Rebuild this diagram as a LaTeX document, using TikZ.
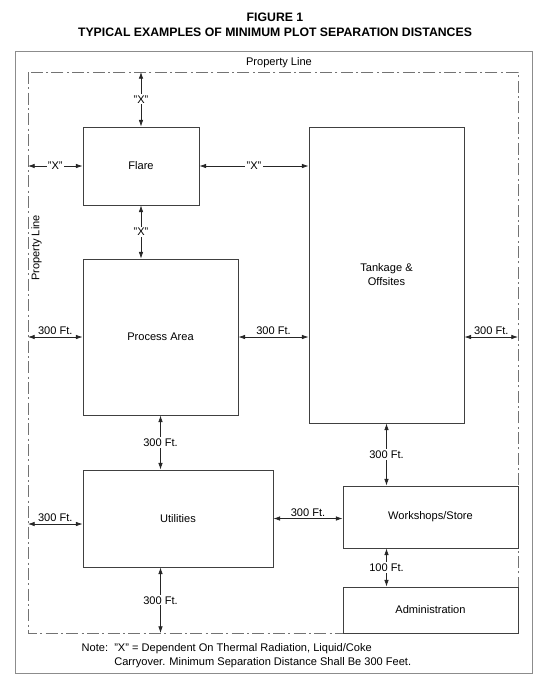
\documentclass[tikz,border=0pt]{standalone}
\usepackage{fontspec}
\setmainfont{Liberation Sans}
\usetikzlibrary{arrows.meta}

\begin{document}
\begin{tikzpicture}[x=0.75pt, y=-0.75pt,
  font=\fontsize{8.3}{10.5}\selectfont,
  area/.style={draw=black!75, line width=0.7pt, fill=white, inner sep=0pt, align=center},
  dim/.style={{Latex[length=5pt,width=3.4pt]}-{Latex[length=5pt,width=3.4pt]}, line width=0.5pt, draw=black!85},
  onl/.style={fill=white, inner sep=1pt},
  abv/.style={above, inner sep=1.5pt}]
\useasboundingbox (0,0) rectangle (549,683);

% title
\node[font=\fontsize{9.2}{11.5}\selectfont\bfseries, align=center] (title) at (275,25) {FIGURE 1\\TYPICAL EXAMPLES OF MINIMUM PLOT SEPARATION DISTANCES};
\draw[black!45, line width=0.6pt] (15,51) rectangle (532,673);

% property line
\coordinate (plnw) at (28,72);
\coordinate (plse) at (518,633);
\coordinate (plw) at (28,524);
\draw[black!55, line width=0.6pt, dash pattern=on 9pt off 2.5pt on 1.5pt off 2.5pt] (plnw) rectangle (plse);
\node (pltop) at (279,63) {Property Line};
\node[rotate=90] (plleft) at (36.5,248) {Property Line};

% plot areas
\node[area, minimum width=87pt, minimum height=58.5pt] (flare) at (141,166) {Flare};
\node[area, minimum width=116.25pt, minimum height=117pt] (process) at (160.5,337) {Process Area};
\node[area, minimum width=116.25pt, minimum height=222pt] (tankage) at (386.5,275) {Tankage \&\\Offsites};
\node[area, minimum width=142.5pt, minimum height=72.75pt] (utilities) at (178,518.5) {Utilities};
\node[area, minimum width=131.25pt, minimum height=46.5pt] (workshops) at (430.5,517) {Workshops/Store};
\node[area, minimum width=131.25pt, minimum height=34.5pt] (admin) at (430.5,610) {Administration};

% distances
\draw[dim] (flare.north) -- node[onl] {"X"} (flare.north |- plnw);
\draw[dim] (plnw |- flare) -- node[onl] {"X"} (flare.west);
\draw[dim] (flare.east) -- node[onl] {"X"} (flare.east -| tankage.west);
\draw[dim] (flare.south) -- node[onl] {"X"} (flare.south |- process.north);
\draw[dim] (plnw |- process) -- node[abv] {300 Ft.} (process.west);
\draw[dim] (process.east) -- node[abv] {300 Ft.} (process.east -| tankage.west);
\draw[dim] (tankage.east |- process) -- node[abv] {300 Ft.} (plse |- process);
\draw[dim] (process.south) -- node[onl] {300 Ft.} (process.south |- utilities.north);
\draw[dim] (plw) -- node[abv] {300 Ft.} (plw -| utilities.west);
\draw[dim] (utilities.east) -- node[abv] {300 Ft.} (utilities.east -| workshops.west);
\draw[dim] (process.south |- utilities.south) -- node[onl] {300 Ft.} (process.south |- plse);
\draw[dim] (tankage.south) -- node[onl] {300 Ft.} (tankage.south |- workshops.north);
\draw[dim] (tankage.south |- workshops.south) -- node[onl] {100 Ft.} (tankage.south |- admin.north);

% note
\node[anchor=west, align=left] (note) at (77,656) {Note:\ \ "X" = Dependent On Thermal Radiation, Liquid/Coke\\\hphantom{Note:\ \ }Carryover. Minimum Separation Distance Shall Be 300 Feet.};
\end{tikzpicture}
\end{document}
